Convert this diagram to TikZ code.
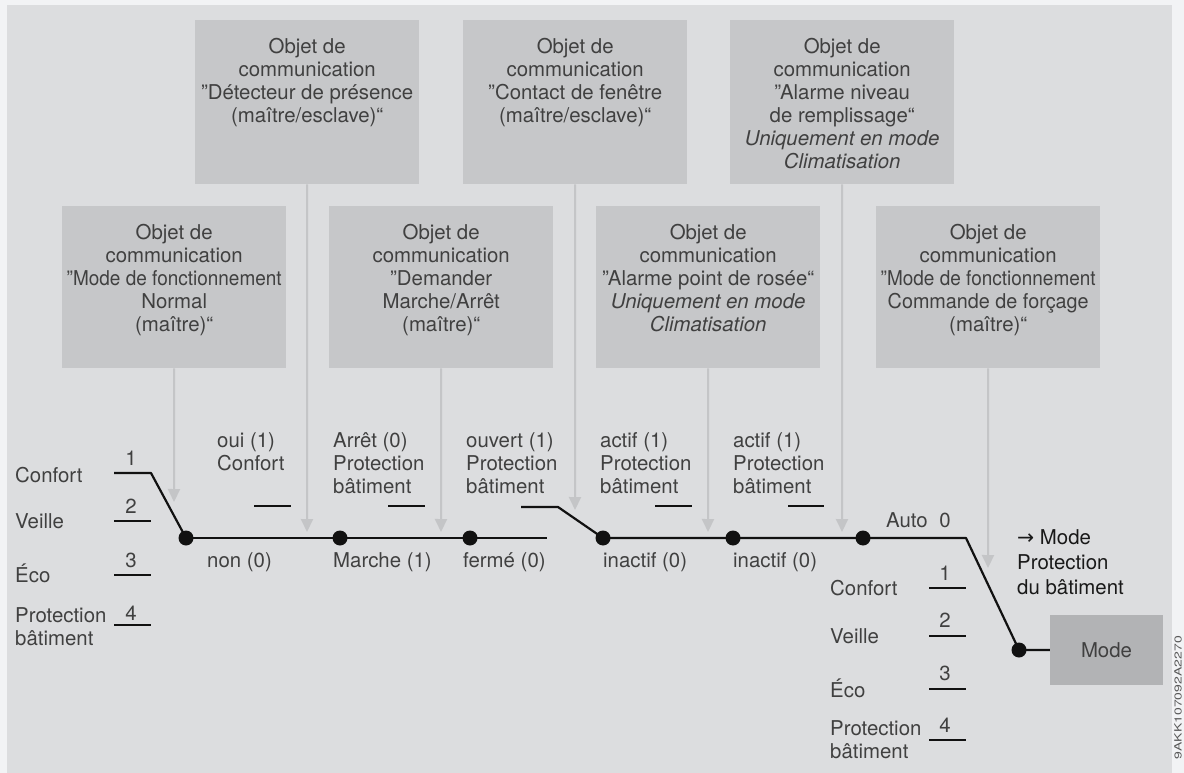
\documentclass[tikz,border=0pt]{standalone}
\usepackage{fontspec}
\setmainfont{TeX Gyre Heros}
\newfontfamily\symfont{DejaVu Sans}
\usepackage{graphicx}
\usetikzlibrary{arrows.meta}
\definecolor{bgouter}{HTML}{F2F3F5}
\definecolor{panel}{HTML}{DCDDDF}
\definecolor{boxc}{HTML}{C6C7C9}
\definecolor{modec}{HTML}{B2B3B5}
\definecolor{arrc}{HTML}{C4C5C7}
\definecolor{txt}{HTML}{404040}
\definecolor{wirec}{HTML}{111111}
\tikzset{
  box/.style={fill=boxc, draw=none, minimum width=224pt, inner sep=0pt, anchor=north west},
  btxt/.style={align=center, inner sep=0pt, anchor=north, text=txt, font=\fontsize{20.4}{23}\selectfont},
  lbl/.style={inner sep=0pt, text=txt, font=\fontsize{20.4}{23}\selectfont},
  lblw/.style={lbl, anchor=base west},
  lbln/.style={lbl, anchor=north west, align=left},
  num/.style={lbl, anchor=base},
  arr/.style={draw=arrc, line width=2pt, -{Triangle[width=12pt,length=13pt]}},
  wire/.style={draw=wirec, line width=2.2pt, line join=round},
  dot/.style={circle, fill=wirec, inner sep=0pt, minimum size=15pt},
  modebox/.style={fill=modec, draw=none, minimum width=113pt, minimum height=70pt, inner sep=0pt, text=txt, font=\fontsize{20.4}{23}\selectfont},
  result/.style={inner sep=0pt, anchor=north west, align=left, text=black!90, font=\fontsize{20.4}{25}\selectfont},
}
\begin{document}
\begin{tikzpicture}[x=1pt,y=-1pt]
\useasboundingbox (0,0) rectangle (1184,773);
\fill[bgouter] (0,0) rectangle (1184,773);
\fill[panel] (7,5) rectangle (1172,773);

% boxes
\node[box, minimum height=164pt] (bdet) at (195,20) {};
\node[box, minimum height=164pt] (bcon) at (463,20) {};
\node[box, minimum height=164pt] (bniv) at (730,20) {};
\node[box, minimum height=162pt] (bnor) at (62,206) {};
\node[box, minimum height=162pt] (bdem) at (329,206) {};
\node[box, minimum height=162pt] (bros) at (596,206) {};
\node[box, minimum height=162pt] (bfor) at (876,206) {};

\node[btxt] (tdet) at ([yshift=-18.5pt]bdet.north) {Objet de\\communication\\”Détecteur de présence\\(maître/esclave)“};
\node[btxt] (tcon) at ([yshift=-18.5pt]bcon.north) {Objet de\\communication\\”Contact de fenêtre\\(maître/esclave)“};
\node[btxt] (tniv) at ([yshift=-18.5pt]bniv.north) {Objet de\\communication\\”Alarme niveau\\de remplissage“\\\textit{Uniquement en mode}\\\textit{Climatisation}};
\node[btxt] (tnor) at ([yshift=-18.5pt]bnor.north) {Objet de\\communication\\\scalebox{0.93}[1]{”Mode de fonctionnement}\\Normal\\(maître)“};
\node[btxt] (tdem) at ([yshift=-18.5pt]bdem.north) {Objet de\\communication\\”Demander\\Marche/Arrêt\\(maître)“};
\node[btxt] (tros) at ([yshift=-18.5pt]bros.north) {Objet de\\communication\\”Alarme point de rosée“\\\textit{Uniquement en mode}\\\textit{Climatisation}};
\node[btxt] (tfor) at ([yshift=-18.5pt]bfor.north) {Objet de\\communication\\\scalebox{0.93}[1]{”Mode de fonctionnement}\\\scalebox{0.97}[1]{Commande de forçage}\\(maître)“};

% arrow tips
\coordinate (anor) at (174,502);
\coordinate (adet) at (307,532);
\coordinate (adem) at (441,532);
\coordinate (acon) at (575,510);
\coordinate (aros) at (708,532);
\coordinate (aniv) at (842,532);
\coordinate (afor) at (988,568);
\draw[arr] (bnor.south) -- (anor);
\draw[arr] (bdet.south) -- (adet);
\draw[arr] (bdem.south) -- (adem);
\draw[arr] (bcon.south) -- (acon);
\draw[arr] (bros.south) -- (aros);
\draw[arr] (bniv.south) -- (aniv);
\draw[arr] (bfor.south) -- (afor);

% dots and mode box
\node[dot] (d1) at (186,538) {};
\node[dot] (d2) at (340,538) {};
\node[dot] (d3) at (470,538) {};
\node[dot] (d4) at (603,538) {};
\node[dot] (d5) at (733,538) {};
\node[dot] (d6) at (863,538) {};
\node[dot] (d7) at (1019,650) {};
\node[modebox] (mode) at (1106.5,650) {Mode};

% left switch
\coordinate (l1a) at (114,473); \coordinate (l1b) at (151,473);
\coordinate (l2a) at (114,521); \coordinate (l2b) at (151,521);
\coordinate (l3a) at (114,575); \coordinate (l3b) at (151,575);
\coordinate (l4a) at (114,625); \coordinate (l4b) at (151,625);
\draw[wire] (l1a) -- (l1b) -- (d1.center);
\draw[wire] (l2a) -- (l2b);
\draw[wire] (l3a) -- (l3b);
\draw[wire] (l4a) -- (l4b);

% main line
\coordinate (e3) at (547,538);
\draw[wire] (d1.center) -- (d2.center) -- (d3.center) -- (e3);
\coordinate (oua) at (521,507); \coordinate (oub) at (558,507);
\draw[wire] (oua) -- (oub) -- (d4.center);
\coordinate (auto0) at (966,538);
\draw[wire] (d4.center) -- (d5.center) -- (d6.center) -- (auto0) -- (d7.center) -- (mode.west);

% contacts "1"
\coordinate (c1a) at (254,506); \coordinate (c1b) at (291,506);
\coordinate (c2a) at (388,506); \coordinate (c2b) at (425,506);
\coordinate (c3a) at (655,506); \coordinate (c3b) at (692,506);
\coordinate (c4a) at (788,506); \coordinate (c4b) at (824,506);
\draw[wire] (c1a) -- (c1b);
\draw[wire] (c2a) -- (c2b);
\draw[wire] (c3a) -- (c3b);
\draw[wire] (c4a) -- (c4b);

% right switch
\coordinate (r1a) at (929,588); \coordinate (r1b) at (966,588);
\coordinate (r2a) at (929,636); \coordinate (r2b) at (966,636);
\coordinate (r3a) at (929,689); \coordinate (r3b) at (966,689);
\coordinate (r4a) at (929,740); \coordinate (r4b) at (966,740);
\draw[wire] (r1a) -- (r1b);
\draw[wire] (r2a) -- (r2b);
\draw[wire] (r3a) -- (r3b);
\draw[wire] (r4a) -- (r4b);

% left labels
\node[lblw] (lc) at (15,482) {Confort};
\node[lblw] (lv) at (15,528) {Veille};
\node[lblw] (le) at (15,582) {Éco};
\node[lbln] (lp) at (15,607.5) {Protection\\bâtiment};
\node[num] (n1) at (131,465) {1};
\node[num] (n2) at (131,513) {2};
\node[num] (n3) at (131,567) {3};
\node[num] (n4) at (131,620) {4};

% switch labels
\node[lbln] (s1) at (217,432.5) {oui (1)\\Confort};
\node[lblw] (s1b) at (207,567) {non (0)};
\node[lbln] (s2) at (333,432.5) {Arrêt (0)\\Protection\\bâtiment};
\node[lblw] (s2b) at (333,567) {Marche (1)};
\node[lbln] (s3) at (466,432.5) {ouvert (1)\\Protection\\bâtiment};
\node[lblw] (s3b) at (463,567) {fermé (0)};
\node[lbln] (s4) at (600,432.5) {actif (1)\\Protection\\bâtiment};
\node[lblw] (s4b) at (603,567) {inactif (0)};
\node[lbln] (s5) at (733,432.5) {actif (1)\\Protection\\bâtiment};
\node[lblw] (s5b) at (733,567) {inactif (0)};

% right labels
\node[lblw] (ra) at (886,527) {Auto};
\node[num] (m0) at (945,527) {0};
\node[lblw] (rc) at (830,595) {Confort};
\node[lblw] (rv) at (830,643) {Veille};
\node[lblw] (re) at (830,697) {Éco};
\node[lbln] (rp) at (830,720.5) {Protection\\bâtiment};
\node[num] (m1) at (945,580) {1};
\node[num] (m2) at (945,627) {2};
\node[num] (m3) at (945,680) {3};
\node[num] (m4) at (945,732) {4};

\node[result] (res) at (1017,529.5) {{\symfont →} Mode\\Protection\\du bâtiment};

\node[rotate=90, anchor=east, inner sep=0pt, text=black!65, font=\fontsize{10}{12}\selectfont] (code) at (1178,636) {\scalebox{1.4}[1]{9AKK107092A2270}};
\end{tikzpicture}
\end{document}
